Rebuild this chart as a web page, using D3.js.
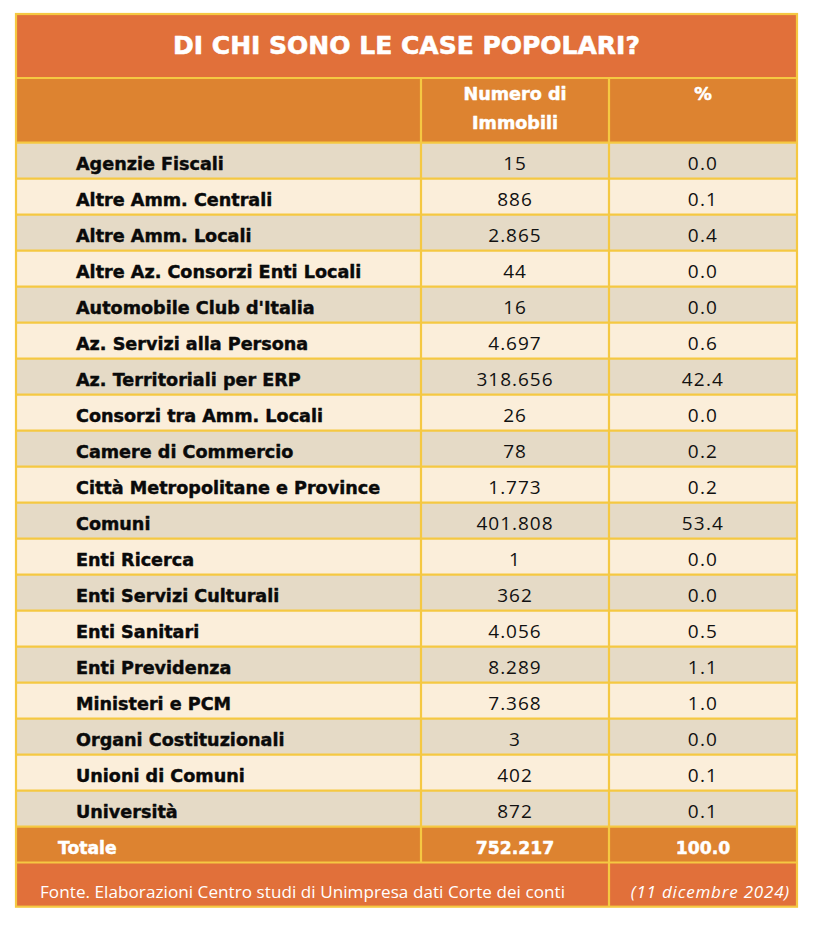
<!DOCTYPE html>
<html><head><meta charset="utf-8">
<script src="https://cdn.jsdelivr.net/npm/d3@7"></script>
<style>
html,body{margin:0;padding:0;background:#fff;}
svg{display:block;}
</style></head>
<body>
<script>
const title = "DI CHI SONO LE CASE POPOLARI?";
const headerCount = ["Numero di", "Immobili"];
const headerPct = "%";
const categories = ["Agenzie Fiscali","Altre Amm. Centrali","Altre Amm. Locali","Altre Az. Consorzi Enti Locali","Automobile Club d'Italia","Az. Servizi alla Persona","Az. Territoriali per ERP","Consorzi tra Amm. Locali","Camere di Commercio","Città Metropolitane e Province","Comuni","Enti Ricerca","Enti Servizi Culturali","Enti Sanitari","Enti Previdenza","Ministeri e PCM","Organi Costituzionali","Unioni di Comuni","Università"];
const counts = [15,886,2865,44,16,4697,318656,26,78,1773,401808,1,362,4056,8289,7368,3,402,872];
const percents = [0.0,0.1,0.4,0.0,0.0,0.6,42.4,0.0,0.2,0.2,53.4,0.0,0.0,0.5,1.1,1.0,0.0,0.1,0.1];
const totalLabel = "Totale";
const totalCount = 752217;
const totalPct = 100.0;
const source = "Fonte. Elaborazioni Centro studi di Unimpresa dati Corte dei conti";
const dateNote = "(11 dicembre 2024)";

const W = 814, H = 926;
const C = {title:"#E1703A", head:"#DD8330", odd:"#E5DAC6", even:"#FBEEDA", border:"#F5C842"};
const itLocale = d3.formatLocale({decimal:",", thousands:".", grouping:[3], currency:["€",""]});
const fmtCount = itLocale.format(",d");
const fmtPct = d3.format(".1f");

const svg = d3.select("body").append("svg").attr("width", W).attr("height", H);

const x0 = 16, x1 = 421, x2 = 609, x3 = 797;
const yTitle = 14, yHead = 78, yRows = 142.7, yTot = 826.7, yFoot = 862.5, yEnd = 906.7;

const y = d3.scaleBand().domain(d3.range(categories.length)).range([yRows, yTot]).paddingInner(0);
const colCenter = d => (d === 1 ? (x1 + x2) / 2 : (x2 + x3) / 2);

// backgrounds
svg.append("rect").attr("x", x0).attr("y", yTitle).attr("width", x3 - x0).attr("height", yHead - yTitle).attr("fill", C.title);
svg.append("rect").attr("x", x0).attr("y", yHead).attr("width", x3 - x0).attr("height", yRows - yHead).attr("fill", C.head);
svg.append("g").selectAll("rect").data(categories).join("rect")
  .attr("x", x0).attr("y", (d, i) => y(i)).attr("width", x3 - x0).attr("height", y.bandwidth())
  .attr("fill", (d, i) => i % 2 === 0 ? C.odd : C.even);
svg.append("rect").attr("x", x0).attr("y", yTot).attr("width", x3 - x0).attr("height", yFoot - yTot).attr("fill", C.head);
svg.append("rect").attr("x", x0).attr("y", yFoot).attr("width", x3 - x0).attr("height", yEnd - yFoot).attr("fill", C.title);

// grid lines
const g = svg.append("g").attr("stroke", C.border).attr("stroke-width", 2.2).attr("fill", "none");
const hLines = [yHead, ...d3.range(categories.length).map(i => y(i)), yTot, yFoot];
g.selectAll("line.h").data(hLines).join("line").attr("class", "h")
  .attr("x1", x0).attr("x2", x3).attr("y1", d => d).attr("y2", d => d);
g.selectAll("line.v").data([x1, x2]).join("line").attr("class", "v")
  .attr("x1", d => d).attr("x2", d => d).attr("y1", yHead).attr("y2", yFoot);
g.append("line").attr("x1", x2).attr("x2", x2).attr("y1", yFoot).attr("y2", yEnd);
g.append("rect").attr("x", x0).attr("y", yTitle).attr("width", x3 - x0).attr("height", yEnd - yTitle);

const boldFont = "'DejaVu Sans', 'Noto Sans', sans-serif";
const numFont = "'Open Sans', 'Noto Sans', sans-serif";
const BW = "bold";
const heavy = (sel, col, w) => sel.attr("stroke", col).attr("stroke-width", w).attr("stroke-linejoin", "round");

// title
heavy(svg.append("text").attr("x", (x0 + x3) / 2).attr("y", 53.5).attr("text-anchor", "middle")
  .attr("font-family", boldFont).attr("font-weight", BW).attr("font-size", 25).attr("fill", "#fff")
  .text(title), "#fff", 0.6);

// header
heavy(svg.append("g").selectAll("text").data(headerCount).join("text")
  .attr("x", colCenter(1)).attr("y", (d, i) => 100 + i * 29).attr("text-anchor", "middle")
  .attr("font-family", boldFont).attr("font-weight", BW).attr("font-size", 17.6).attr("fill", "#fff")
  .text(d => d), "#fff", 0.5);
heavy(svg.append("text").attr("x", colCenter(2)).attr("y", 100).attr("text-anchor", "middle")
  .attr("font-family", boldFont).attr("font-weight", BW).attr("font-size", 17.6).attr("fill", "#fff")
  .text(headerPct), "#fff", 0.5);

// rows
const rows = svg.append("g").selectAll("g").data(categories).join("g")
  .attr("transform", (d, i) => `translate(0,${y(i) + 27.3})`);
heavy(rows.append("text").attr("x", 76).attr("font-family", boldFont).attr("font-weight", BW)
  .attr("font-size", 17.6).attr("fill", "#0a0a0a").text(d => d), "#0a0a0a", 0.45);
rows.append("text").attr("x", colCenter(1)).attr("text-anchor", "middle").attr("font-family", numFont)
  .attr("font-size", 19).attr("fill", "#111").attr("letter-spacing", 1).text((d, i) => fmtCount(counts[i]));
rows.append("text").attr("x", colCenter(2)).attr("text-anchor", "middle").attr("font-family", numFont)
  .attr("font-size", 19).attr("fill", "#111").attr("letter-spacing", 1.2).text((d, i) => fmtPct(percents[i]));

// total
const tY = yTot + 27;
heavy(svg.append("text").attr("x", 58).attr("y", tY).attr("font-family", boldFont).attr("font-weight", BW)
  .attr("font-size", 17.2).attr("fill", "#fff").text(totalLabel), "#fff", 0.5);
heavy(svg.append("text").attr("x", colCenter(1)).attr("y", tY).attr("text-anchor", "middle").attr("font-family", boldFont)
  .attr("font-weight", BW).attr("font-size", 17.2).attr("fill", "#fff").text(fmtCount(totalCount)), "#fff", 0.5);
heavy(svg.append("text").attr("x", colCenter(2)).attr("y", tY).attr("text-anchor", "middle").attr("font-family", boldFont)
  .attr("font-weight", BW).attr("font-size", 17.2).attr("fill", "#fff").text(fmtPct(totalPct)), "#fff", 0.5);

// footer
svg.append("text").attr("x", 40).attr("y", 898).attr("font-family", numFont).attr("font-weight", 400)
  .attr("font-size", 17.1).attr("letter-spacing", 0.05).attr("fill", "#fff").text(source);
svg.append("text").attr("x", 790).attr("y", 898).attr("text-anchor", "end").attr("font-family", numFont)
  .attr("font-style", "italic").attr("font-weight", 400).attr("font-size", 17).attr("letter-spacing", 0.8)
  .attr("fill", "#fff").text(dateNote);
</script>
</body></html>
